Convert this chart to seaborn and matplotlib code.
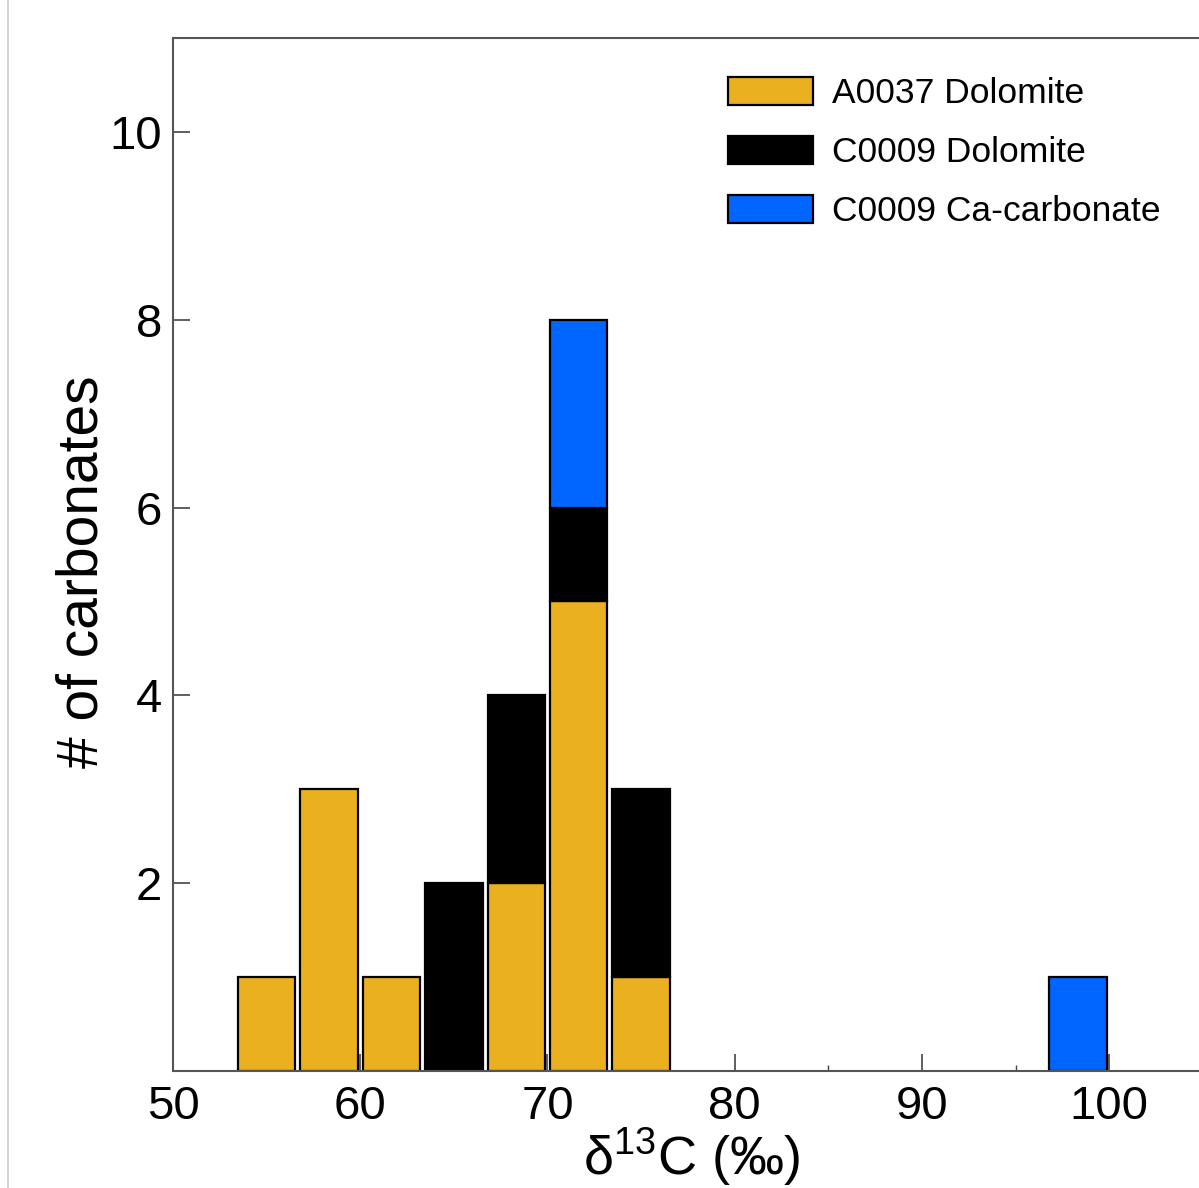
import numpy as np
import pandas as pd
import seaborn as sns
import matplotlib
matplotlib.use("Agg")
import matplotlib.pyplot as plt
from matplotlib.patches import Patch
from matplotlib.lines import Line2D
from matplotlib.ticker import MultipleLocator

# ---- data ----
bin_centers = [55.0, 58.333, 61.667, 65.0, 68.333, 71.667, 75.0, 98.333]
a0037_dolomite = [1, 3, 1, 0, 2, 5, 1, 0]
c0009_dolomite = [0, 0, 0, 2, 2, 1, 2, 0]
c0009_ca_carbonate = [0, 0, 0, 0, 0, 2, 0, 1]
series_names = ["A0037 Dolomite", "C0009 Dolomite", "C0009 Ca-carbonate"]
series_colors = ["#EBB020", "#000000", "#0066FF"]
bin_edges = [50 + k * 10 / 3 for k in range(0, 16)]

rows = []
for name, counts in zip(series_names, [a0037_dolomite, c0009_dolomite, c0009_ca_carbonate]):
    for c, n in zip(bin_centers, counts):
        if n > 0:
            rows.append({"d13C": c, "count": n, "series": name})
df = pd.DataFrame(rows)

sns.set_style("ticks")
plt.rcParams["font.family"] = ["Liberation Sans", "DejaVu Sans"]
plt.rcParams["mathtext.fontset"] = "custom"
plt.rcParams["mathtext.rm"] = "Liberation Sans"
plt.rcParams["mathtext.it"] = "Liberation Sans:italic"
plt.rcParams["text.color"] = "black"
plt.rcParams["axes.labelcolor"] = "black"
plt.rcParams["xtick.labelcolor"] = "black"
plt.rcParams["ytick.labelcolor"] = "black"

fig = plt.figure(figsize=(11.99, 11.88), dpi=100)
ax = fig.add_axes([173 / 1199, 1 - 1071 / 1188, 1 - 173 / 1199, (1071 - 38) / 1188])

palette = dict(zip(series_names, series_colors))
sns.histplot(data=df, x="d13C", weights="count", hue="series",
             hue_order=series_names[::-1], multiple="stack", bins=bin_edges,
             shrink=0.92, palette=palette, alpha=1, edgecolor="black",
             linewidth=1.6, legend=False, ax=ax)

# drop empty (zero-height) bars so they don't draw over the axis
for p in list(ax.patches):
    if p.get_height() == 0:
        p.remove()

ax.set_xlim(50, 104.8)
ax.set_ylim(0, 11)
ax.xaxis.set_major_locator(MultipleLocator(10))
ax.xaxis.set_minor_locator(MultipleLocator(5))
ax.set_yticks([2, 4, 6, 8, 10])
ax.tick_params(axis="both", which="major", direction="in", length=12, width=1.2,
               color="#444444", labelsize=34, pad=8, labelcolor="black")
ax.tick_params(axis="x", which="minor", direction="in", length=4, width=1.0, color="#444444")
ax.tick_params(axis="x", which="major", pad=10)

for side in ["left", "bottom", "top"]:
    ax.spines[side].set_color("#555555")
    ax.spines[side].set_linewidth(1.5)
ax.spines["right"].set_visible(False)

ax.set_ylabel("# of carbonates", fontsize=41, color="black")
ax.set_xlabel("δ$^{13}$C (‰)", fontsize=39, color="black")
ax.yaxis.set_label_coords(-0.062, 0.483)
ax.xaxis.set_label_coords(0.505, -0.053)
ax.xaxis.label.set_va("top")

handles = [Patch(facecolor=c, edgecolor="black", linewidth=1.6) for c in series_colors]
fig.legend(handles, series_names, loc="upper left",
           bbox_to_anchor=(728 / 1199, 1 - 77 / 1188), frameon=False,
           fontsize=25.5, handlelength=2.4, handleheight=0.85,
           handletextpad=0.55, labelspacing=0.72, borderpad=0, borderaxespad=0)

fig.add_artist(Line2D([7.5 / 1199, 7.5 / 1199], [0, 1], color="#cccccc",
                      linewidth=1.2, transform=fig.transFigure))

fig.savefig("out.png", dpi=100)
